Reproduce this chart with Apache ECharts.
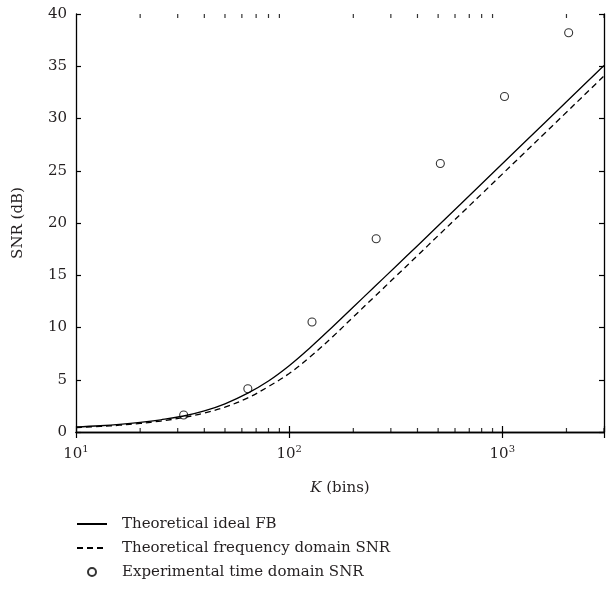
<!DOCTYPE html>
<html>
<head>
<meta charset="utf-8">
<script src="https://cdn.jsdelivr.net/npm/echarts@6/dist/echarts.min.js"></script>
<style>
html,body{margin:0;padding:0;background:#fff;}
#chart{width:607px;height:594px;}
</style>
</head>
<body>
<div id="chart"></div>
<script>
// K values (bins) sampled along the theoretical curves
var kValues = [10, 13, 16, 20, 25, 32, 40, 50, 64, 80, 100, 125, 160, 200, 250, 320, 400, 500, 640, 800, 1000, 1250, 1600, 2000, 2500, 3000];
// Theoretical ideal FB (dB)
var idealFB = [0.48, 0.60, 0.73, 0.92, 1.17, 1.53, 2.02, 2.70, 3.72, 4.88, 6.34, 8.04, 10.07, 11.96, 13.85, 15.94, 17.83, 19.74, 21.85, 23.76, 25.67, 27.58, 29.69, 31.6, 33.51, 35.07];
// Theoretical frequency domain SNR (dB)
var freqDomain = [0.42, 0.53, 0.65, 0.82, 1.05, 1.39, 1.82, 2.38, 3.27, 4.35, 5.6, 7.16, 9.12, 11.01, 12.9, 14.99, 16.88, 18.79, 20.88, 22.78, 24.68, 26.58, 28.69, 30.6, 32.51, 34.07];
// Experimental time domain SNR
var expK = [32, 64, 128, 256, 512, 1024, 2048];
var expSNR = [1.63, 4.14, 10.53, 18.5, 25.7, 32.1, 38.2];
// minor tick positions on the log axis
var minorTicks = [20, 30, 40, 50, 60, 70, 80, 90, 200, 300, 400, 500, 600, 700, 800, 900, 2000, 3000];

var seriesNames = ['Theoretical ideal FB', 'Theoretical frequency domain SNR', 'Experimental time domain SNR'];

function pairs(xs, ys) { return xs.map(function (x, i) { return [x, ys[i]]; }); }

var FONT = 'DejaVu Serif';
var TXT = '#231f20';

var chart = echarts.init(document.getElementById('chart'), null, {renderer: 'canvas'});
var option = {
  animation: false,
  backgroundColor: '#fff',
  textStyle: {fontFamily: FONT, color: TXT},
  grid: {left: 76, right: 1, top: 14, bottom: 162, containLabel: false},
  xAxis: [{
    type: 'log', logBase: 10, min: 10, max: 3000, interval: 1,
    position: 'bottom',
    name: '{k|K} (bins)', nameLocation: 'middle', nameGap: 49,
    nameTextStyle: {fontFamily: FONT, fontSize: 15, color: TXT,
      rich: {k: {fontFamily: FONT, fontSize: 15, fontStyle: 'italic', color: TXT}}},
    axisLine: {show: true, lineStyle: {color: '#000', width: 1.3}},
    axisTick: {show: true, inside: true, length: 6, lineStyle: {color: '#000', width: 1.2}},
    splitLine: {show: false},
    axisLabel: {
      margin: 12, color: TXT, fontFamily: FONT,
      formatter: function (v) {
        var e = Math.log10(v);
        if (Math.abs(e - Math.round(e)) > 1e-6) return '';
        return '{b|10}{s|' + Math.round(e) + '}';
      },
      rich: {
        b: {fontFamily: FONT, fontSize: 15, lineHeight: 20, color: TXT},
        s: {fontFamily: FONT, fontSize: 10, lineHeight: 10, verticalAlign: 'top', color: TXT}
      }
    }
  }, {
    type: 'log', logBase: 10, min: 10, max: 3000, interval: 1,
    position: 'top',
    axisLine: {show: true, lineStyle: {color: '#000', width: 1.3}},
    axisTick: {show: true, inside: true, length: 6, lineStyle: {color: '#000', width: 1.2}},
    axisLabel: {show: false},
    splitLine: {show: false}
  }],
  yAxis: [{
    type: 'value', min: 0, max: 40, interval: 5,
    position: 'left',
    name: 'SNR (dB)', nameLocation: 'middle', nameGap: 50,
    nameTextStyle: {fontFamily: FONT, fontSize: 15, color: TXT},
    axisLine: {show: true, lineStyle: {color: '#000', width: 1.3}},
    axisTick: {show: true, inside: true, length: 5, lineStyle: {color: '#000', width: 1.2}},
    axisLabel: {margin: 9, color: TXT, fontFamily: FONT, fontSize: 15},
    splitLine: {show: false}
  }, {
    type: 'value', min: 0, max: 40, interval: 5,
    position: 'right',
    axisLine: {show: true, lineStyle: {color: '#000', width: 1.3}},
    axisTick: {show: true, inside: true, length: 5, lineStyle: {color: '#000', width: 1.2}},
    axisLabel: {show: false},
    splitLine: {show: false}
  }],
  legend: {
    orient: 'vertical', left: 71, top: 509,
    itemWidth: 30, itemHeight: 8, itemGap: 4,
    data: [
      {name: seriesNames[0], itemStyle: {opacity: 0}},
      {name: seriesNames[1], itemStyle: {opacity: 0}},
      {name: seriesNames[2]}
    ],
    selectedMode: false,
    textStyle: {fontFamily: FONT, fontSize: 15, color: TXT, lineHeight: 20, padding: [0, 0, 0, 10]}
  },
  series: [{
    name: seriesNames[0], type: 'line', xAxisIndex: 0, yAxisIndex: 0,
    data: pairs(kValues, idealFB), smooth: 0.4, symbol: 'none', silent: true,
    lineStyle: {color: '#000', width: 1.3, type: 'solid'}, itemStyle: {color: '#000'}
  }, {
    name: seriesNames[1], type: 'line', xAxisIndex: 0, yAxisIndex: 0,
    data: pairs(kValues, freqDomain), smooth: 0.4, symbol: 'none', silent: true,
    lineStyle: {color: '#000', width: 1.3, type: [6, 4]}, itemStyle: {color: '#000'}
  }, {
    name: seriesNames[2], type: 'scatter', xAxisIndex: 0, yAxisIndex: 0,
    data: pairs(expK, expSNR), symbol: 'circle', symbolSize: 8, silent: true,
    itemStyle: {color: 'rgba(255,255,255,0)', borderColor: '#000', borderWidth: 1.1}
  }, {
    name: 'minorBottom', type: 'scatter', xAxisIndex: 0, yAxisIndex: 0,
    data: minorTicks.map(function (k) { return [k, 0]; }),
    symbol: 'rect', symbolSize: [1.2, 4], symbolOffset: [0, -2], silent: true, clip: false,
    itemStyle: {color: '#000'}, z: 5
  }, {
    name: 'minorTop', type: 'scatter', xAxisIndex: 0, yAxisIndex: 0,
    data: minorTicks.map(function (k) { return [k, 40]; }),
    symbol: 'rect', symbolSize: [1.2, 4], symbolOffset: [0, 2], silent: true, clip: false,
    itemStyle: {color: '#000'}, z: 5
  }]
};
chart.setOption(option);
</script>
</body>
</html>
